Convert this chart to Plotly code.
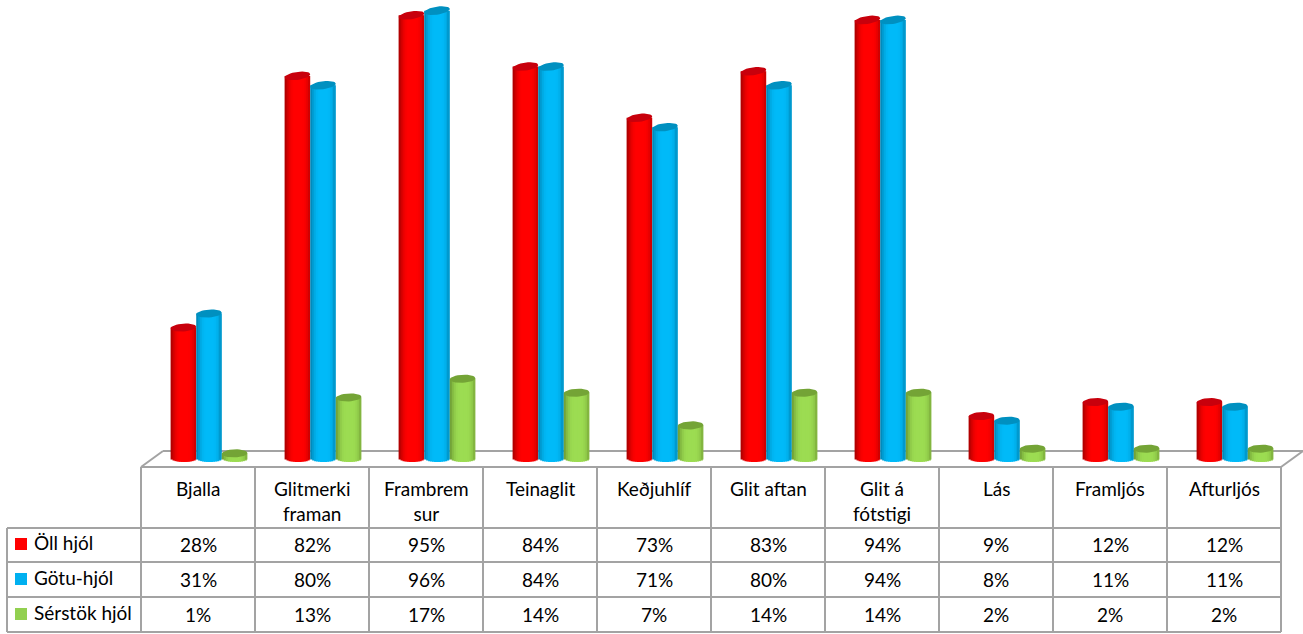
"""Bicycle equipment chart: 3D-looking cylinders above a data table."""

import numpy as np
import plotly.graph_objects as go

categories = ["Bjalla", "Glitmerki<br>framan", "Frambrem<br>sur", "Teinaglit", "Keðjuhlíf",
              "Glit aftan", "Glit á<br>fótstigi", "Lás", "Framljós", "Afturljós"]
series_names = ["Öll hjól", "Götu-hjól", "Sérstök hjól"]
oll_hjol = [28, 82, 95, 84, 73, 83, 94, 9, 12, 12]
gotu_hjol = [31, 80, 96, 84, 71, 80, 94, 8, 11, 11]
serstok_hjol = [1, 13, 17, 14, 7, 14, 14, 2, 2, 2]

W, H = 1303, 634
CELL = 114.0
TABLE_LEFT = 141
LEGEND_LEFT = 7
ZERO_PX = 458
PX_PER_PCT = 4.66
BAR_W = 25.6 / CELL
BAR_SHIFT = 11 / CELL
CAP_PX = 4.0
STRIPS = 13
GRID = "#A3A3A3"
FONT = "Lato"
FONT_SIZE = 19

# edge left, bright, edge right, cap
series_colors = [
    ("#A00000", "#FF0000", "#C40000", "#C8000C"),
    ("#0080AE", "#00BAF8", "#0090C2", "#0090C0"),
    ("#6A9632", "#9CDC52", "#7CAC3C", "#74A436"),
]
swatches = ["#FF0000", "#00B0F0", "#92D050"]


def hex_rgb(c):
    return np.array([int(c[i:i + 2], 16) for i in (1, 3, 5)], dtype=float)


def shade(left, mid, right, u):
    # u runs -1..1 over the cylinder width, brightest a bit left of centre
    if u < -0.25:
        t = (u + 1) / 0.75
        c = hex_rgb(left) * (1 - t) ** 2 + hex_rgb(mid) * (1 - (1 - t) ** 2)
    elif u < 0.35:
        c = hex_rgb(mid)
    else:
        t = (u - 0.35) / 0.65
        c = hex_rgb(mid) * (1 - t ** 2) + hex_rgb(right) * t ** 2
    return "rgb(%d,%d,%d)" % tuple(c)


def px_x(px):
    return (px - TABLE_LEFT) / CELL - 0.5


def px_y(px):
    return (ZERO_PX - px) / PX_PER_PCT


def line(x0, y0, x1, y1):
    return dict(type="line", xref="x", yref="y", x0=px_x(x0), x1=px_x(x1), y0=px_y(y0), y1=px_y(y1),
                line=dict(color=GRID, width=2), layer="below")


fig = go.Figure()
positions = np.arange(len(categories))
cap_b = CAP_PX / PX_PER_PCT

# cylinder bodies, built out of thin vertical strips
for s, values in enumerate([oll_hjol, gotu_hjol, serstok_hjol]):
    left, mid, right, cap = series_colors[s]
    start = (s - 1.5) * BAR_W + BAR_SHIFT
    strip_w = BAR_W / STRIPS
    for k in range(STRIPS):
        u = ((k + 0.5) / STRIPS) * 2 - 1
        base = -cap_b * np.sqrt(1 - u ** 2)
        # overlap the next strip so no seams show, but stay inside the bar
        fig.add_trace(go.Bar(
            x=positions,
            y=[v - base for v in values],
            base=[base] * len(values),
            width=strip_w * (1.7 if k < STRIPS - 1 else 1.0),
            offset=start + k * strip_w,
            marker=dict(color=shade(left, mid, right, u), line=dict(width=0)),
            hoverinfo="skip",
            showlegend=False,
        ))

# cylinder tops, tilted a little more the taller the bar is
t = np.linspace(0, 2 * np.pi, 33)
for s, values in enumerate([oll_hjol, gotu_hjol, serstok_hjol]):
    xs, ys = [], []
    for pos, v in zip(positions, values):
        centre = pos + (s - 1) * BAR_W + BAR_SHIFT
        tilt = (0.4 + 1.4 * v / 96) / PX_PER_PCT
        xs += list(centre + BAR_W / 2 * np.cos(t)) + [None]
        ys += list(v + cap_b * np.sin(t) + tilt * np.cos(t)) + [None]
    fig.add_trace(go.Scatter(
        x=xs, y=ys, mode="lines", fill="toself", fillcolor=series_colors[s][3],
        line=dict(width=0), hoverinfo="skip", showlegend=False,
    ))

# floor and table grid
rows_px = [528, 562, 597, 632]
shapes = [
    line(141, 467, 163, 451),
    line(163, 451, 1303, 451),
    line(1303, 451, 1281, 467),
    line(141, 467, 1281, 467),
    line(LEGEND_LEFT, rows_px[0], LEGEND_LEFT, rows_px[-1]),
]
for r in rows_px:
    shapes.append(line(LEGEND_LEFT, r, TABLE_LEFT + CELL * len(categories), r))
for i in range(len(categories) + 1):
    xp = TABLE_LEFT + CELL * i
    shapes.append(line(xp, 467, xp, rows_px[-1]))

# table text
annotations = []
for pos, name in zip(positions, categories):
    annotations.append(dict(x=pos, y=px_y(475), text=name, yanchor="top", xanchor="center",
                            showarrow=False, font=dict(family=FONT, size=FONT_SIZE, color="#000000"),
                            align="center"))
row_centres = [545, 580, 615]
for s, values in enumerate([oll_hjol, gotu_hjol, serstok_hjol]):
    annotations.append(dict(x=px_x(32), y=px_y(row_centres[s] - 3), text=series_names[s], xanchor="left",
                            yanchor="middle", showarrow=False,
                            font=dict(family=FONT, size=FONT_SIZE, color="#000000")))
    for pos, v in zip(positions, values):
        annotations.append(dict(x=pos, y=px_y(row_centres[s] - 1), text=f"{v}%", xanchor="center",
                                yanchor="middle", showarrow=False,
                                font=dict(family=FONT, size=FONT_SIZE, color="#000000")))

fig.add_trace(go.Scatter(
    x=[px_x(21)] * 3,
    y=[px_y(r - 1) for r in row_centres],
    mode="markers",
    marker=dict(symbol="square", size=12, color=swatches, line=dict(width=0)),
    hoverinfo="skip",
    showlegend=False,
))

fig.update_layout(
    width=W,
    height=H,
    margin=dict(l=0, r=0, t=0, b=0),
    paper_bgcolor="#FFFFFF",
    plot_bgcolor="#FFFFFF",
    barmode="overlay",
    shapes=shapes,
    annotations=annotations,
)
fig.update_xaxes(range=[px_x(0), px_x(W)], visible=False, fixedrange=True)
fig.update_yaxes(range=[px_y(H), px_y(0)], visible=False, fixedrange=True)

fig.write_html("out.html", config=dict(displayModeBar=False),
               post_script="document.body.style.margin = '0';")
